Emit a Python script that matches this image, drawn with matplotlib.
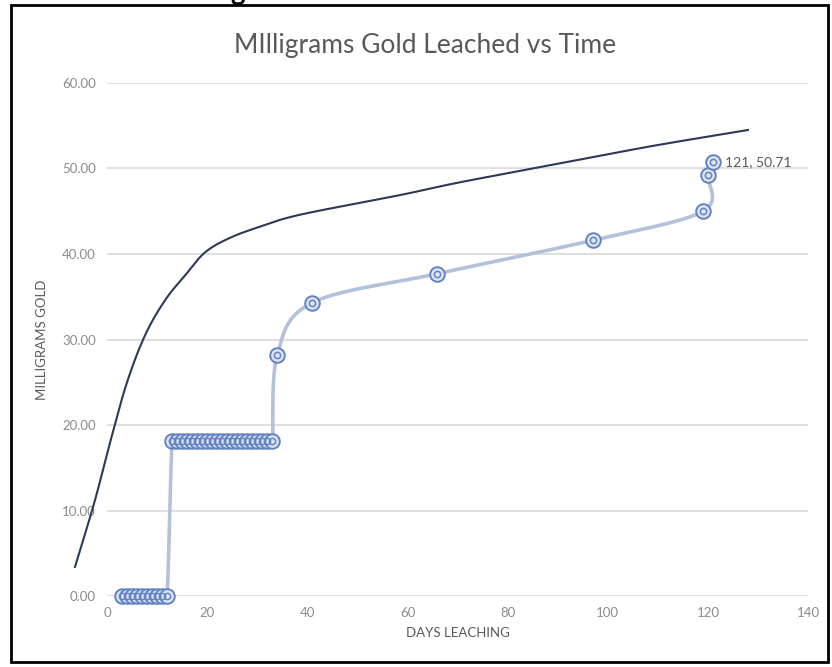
import numpy as np
import matplotlib.pyplot as plt
from matplotlib.patches import Rectangle

# measured series (days, mg gold)
days = [3, 4, 5, 6, 7, 8, 9, 10, 11, 12,
        13, 14, 15, 16, 17, 18, 19, 20, 21, 22, 23, 24, 25, 26, 27, 28, 29, 30, 31, 32, 33,
        34, 41, 66, 97, 119, 120, 121]
gold = [0.0] * 10 + [18.1] * 21 + [28.2, 34.3, 37.7, 41.6, 45.0, 49.2, 50.71]

# upper curve
curve_days = [-6.4, -2.5, 1.0, 4.0, 7.6, 11.6, 15.6, 19.6, 24.6, 30.6, 38.6, 58.6, 70.6, 90.6, 108.6, 128.0]
curve_mg = [3.4, 11.0, 18.8, 25.0, 30.5, 34.6, 37.5, 40.2, 41.9, 43.2, 44.6, 46.9, 48.4, 50.6, 52.6, 54.5]

xticks = [0, 20, 40, 60, 80, 100, 120, 140]
yticks = [0, 10, 20, 30, 40, 50, 60]


def smooth(xs, ys, sx=5.0, sy=8.55, n=24):
    # excel-like smoothed line (bezier, tension 1/6) in screen scale, no overshoot in y
    p = np.column_stack([np.array(xs) * sx, np.array(ys) * sy])
    out = []
    t = np.linspace(0, 1, n)[:, None]
    for i in range(len(p) - 1):
        p0 = p[max(i - 1, 0)]
        p1 = p[i]
        p2 = p[i + 1]
        p3 = p[min(i + 2, len(p) - 1)]
        c1 = p1 + (p2 - p0) / 6
        c2 = p2 - (p3 - p1) / 6
        lo, hi = min(p1[1], p2[1]), max(p1[1], p2[1])
        c1[1] = np.clip(c1[1], lo, hi)
        c2[1] = np.clip(c2[1], lo, hi)
        seg = ((1 - t) ** 3) * p1 + 3 * ((1 - t) ** 2) * t * c1 + 3 * (1 - t) * t ** 2 * c2 + t ** 3 * p2
        out.append(seg)
    out = np.vstack(out)
    return out[:, 0] / sx, out[:, 1] / sy


plt.rcParams['font.family'] = ['Lato', 'DejaVu Sans']

fig = plt.figure(figsize=(8.32, 6.67), dpi=100)
ax = fig.add_axes([0.1286, 0.1064, 0.8426, 0.7692])

for s in ax.spines.values():
    s.set_visible(False)
ax.set_xlim(0, 140)
ax.set_ylim(0, 60)
ax.set_xticks(xticks)
ax.set_yticks(yticks)
ax.set_yticklabels(['%.2f' % v for v in yticks])
ax.tick_params(length=0, colors='#8c8c8c', labelsize=9.5)
ax.tick_params(axis='x', pad=8)
ax.tick_params(axis='y', pad=8)
ax.grid(axis='y', color='#d9d9d9', lw=1.2)
ax.set_axisbelow(True)

cx, cy = smooth(curve_days, curve_mg)
ax.plot(cx, cy, color='#2c3a58', lw=1.5, clip_on=False, zorder=3)

sx_, sy_ = smooth(days, gold)
ax.plot(sx_, sy_, color='#b3c1da', lw=2.6, clip_on=False, zorder=3)
ax.plot(days, gold, 'o', ms=10.5, mfc='#dde5f3', mec='#6383c2', mew=1.4, clip_on=False, zorder=4)
ax.plot(days, gold, 'o', ms=4.5, mfc='none', mec='#6383c2', mew=1.1, clip_on=False, zorder=5)

ax.annotate('%d, %.2f' % (days[-1], gold[-1]), (days[-1], gold[-1]), xytext=(9, 0),
            textcoords='offset points', va='center', ha='left', fontsize=10, color='#595959')

ax.set_xlabel('DAYS LEACHING', color='#595959', fontsize=9.5, labelpad=6)
ax.set_ylabel('MILLIGRAMS GOLD', color='#595959', fontsize=9.5, labelpad=10)
fig.text(0.511, 0.932, 'MIlligrams Gold Leached vs Time', ha='center', va='center',
         fontsize=19, color='#595959')

# frame and cut-off heading letter
fig.patches.append(Rectangle((0.013, 0.007), 0.982, 0.986, transform=fig.transFigure,
                             fill=False, ec='black', lw=2))
fig.text(0.277, 1.0, 'g', fontsize=20, fontweight='bold', color='black', va='baseline')

fig.savefig('out.png', dpi=100)
